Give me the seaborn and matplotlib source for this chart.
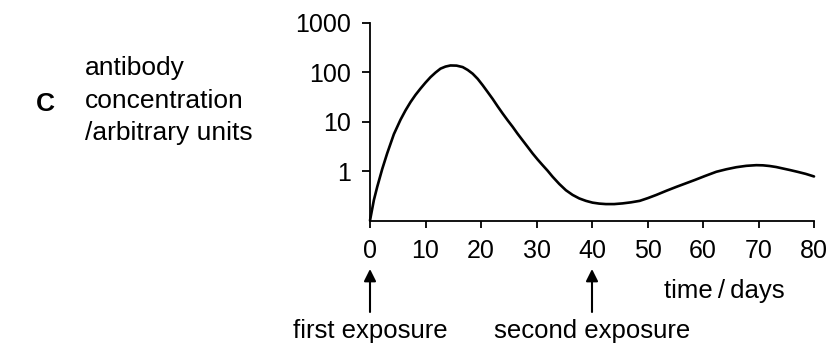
import matplotlib
matplotlib.use("Agg")
import matplotlib.pyplot as plt
import matplotlib.transforms as mtransforms
import seaborn as sns
import pandas as pd

# data (days, antibody concentration, arbitrary units)
days = [0, 0.7, 1.3, 2.2, 3.1, 4.3, 5.5, 6.4, 7.3, 8.2, 9.1, 10.0, 10.9, 11.8,
        12.7, 13.6, 14.5, 15.6, 16.7, 17.6, 18.5, 19.4, 20.3, 21.2, 22.1, 23.0,
        23.9, 24.8, 25.7, 26.6, 27.5, 28.4, 29.3, 30.2, 31.1, 32.0, 32.9, 34.1,
        35.3, 36.5, 37.7, 38.9, 40.1, 41.3, 42.5, 44.0, 45.5, 47.0, 48.6, 50.1,
        51.6, 53.4, 55.2, 56.8, 58.5, 60.4, 62.4, 64.2, 66.0, 67.8, 69.6, 70.8,
        72.0, 73.2, 74.4, 75.7, 77.0, 78.5, 80.0]
concentration = [0.1, 0.26, 0.48, 1.1, 2.3, 5.6, 11, 17, 25, 35, 47, 62,
                 80, 99, 119, 131, 138, 137, 128, 112, 94, 74, 55, 40, 29,
                 20.5, 14.7, 10.7, 7.9, 5.7, 4.2, 3.1, 2.28, 1.72, 1.32, 1.02,
                 0.77, 0.55, 0.41, 0.33, 0.28, 0.25, 0.23, 0.22, 0.215, 0.215,
                 0.222, 0.233, 0.25, 0.285, 0.33, 0.40, 0.48, 0.56, 0.66, 0.80,
                 0.97, 1.09, 1.2, 1.28, 1.32, 1.31, 1.27, 1.21, 1.13, 1.05,
                 0.97, 0.88, 0.78]
x_ticks = [0, 10, 20, 30, 40, 50, 60, 70, 80]
y_ticks = [1, 10, 100, 1000]
y_tick_labels = ["1", "10", "100", "1000"]
exposure_days = [0, 40]
exposure_labels = ["first exposure", "second exposure"]

df = pd.DataFrame({"day": days, "conc": concentration})

sns.set_theme(style="ticks")
plt.rcParams["font.family"] = ["Liberation Sans", "DejaVu Sans"]
plt.rcParams["text.color"] = "black"

W, H = 830, 347
fig = plt.figure(figsize=(W / 100, H / 100), dpi=100)
fig.patch.set_facecolor("white")

left, right, bottom, top = 370, 814, 220.5, 23
ax = fig.add_axes([left / W, 1 - bottom / H, (right - left) / W, (bottom - top) / H])
ax.set_facecolor("white")

sns.lineplot(data=df, x="day", y="conc", ax=ax, color="black", linewidth=1.9,
             clip_on=False)
for ln in ax.get_lines():
    ln.set_solid_joinstyle("round")
ax.set_yscale("log")
ax.set_xlim(0, 80)
ax.set_ylim(0.1, 1000)
ax.set_xticks(x_ticks)
ax.set_xticklabels([str(v) for v in x_ticks])
ax.set_yticks(y_ticks)
ax.set_yticklabels(y_tick_labels)
ax.yaxis.set_minor_locator(matplotlib.ticker.NullLocator())
ax.set_xlabel("")
ax.set_ylabel("")
for s in ["top", "right"]:
    ax.spines[s].set_visible(False)
for s in ["left", "bottom"]:
    ax.spines[s].set_linewidth(1.3)
    ax.spines[s].set_color("black")
ax.tick_params(axis="y", direction="out", length=6, width=1.3, pad=8,
               labelsize=18, colors="black")
ax.tick_params(axis="x", direction="out", length=5, width=1.3, pad=8,
               labelsize=18, colors="black")

def fy(p):
    return 1 - p / H

def fx(p):
    return p / W

# left labels
fig.text(fx(36), fy(111), "C", fontsize=19, fontweight="bold", ha="left",
         va="baseline", color="black")
fig.text(fx(85), fy(75), "antibody", fontsize=19, ha="left", va="baseline", color="black")
fig.text(fx(85), fy(108), "concentration", fontsize=19, ha="left", va="baseline", color="black")
fig.text(fx(85), fy(140), "/arbitrary units", fontsize=19, ha="left", va="baseline", color="black")

# x label
fig.text(fx(785), fy(298), "time\u2009/\u2009days", fontsize=18.5, ha="right",
         va="baseline", color="black")

# exposure arrows
trans = mtransforms.blended_transform_factory(ax.transData, fig.transFigure)
for d, lab in zip(exposure_days, exposure_labels):
    ax.annotate("", xy=(d, fy(269)), xytext=(d, fy(312)), xycoords=trans,
                textcoords=trans,
                arrowprops=dict(arrowstyle="-|>", color="black", lw=1.5,
                                mutation_scale=18, shrinkA=0, shrinkB=0),
                annotation_clip=False)
    ax.text(d, fy(338), lab, transform=trans, fontsize=18.5, ha="center",
            va="baseline", color="black")

fig.savefig("out.png", dpi=100, facecolor="white")
